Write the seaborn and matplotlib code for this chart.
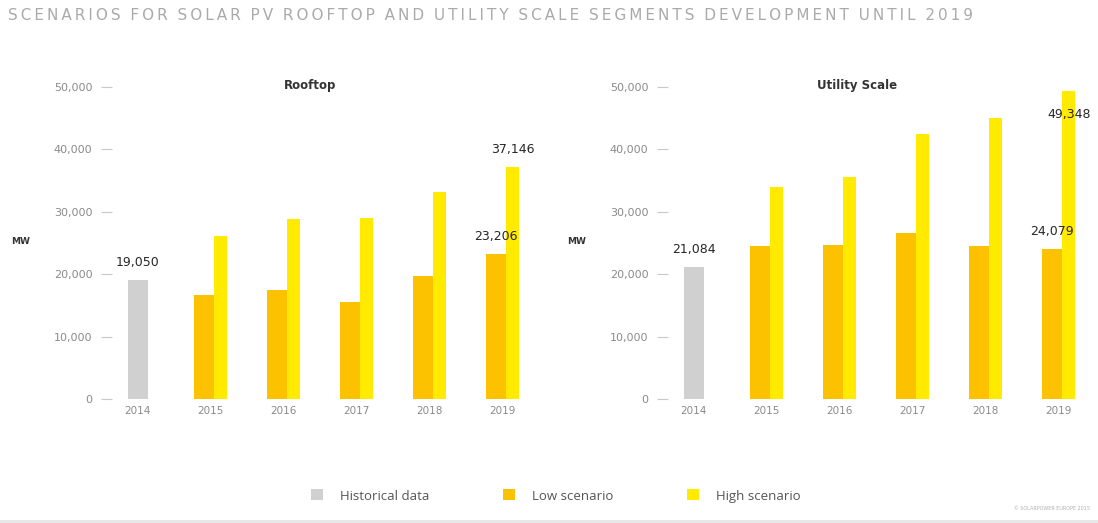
"""
Solar PV rooftop vs utility scale scenarios, 2014-2019.
"""

import matplotlib
matplotlib.use("Agg")
import matplotlib.pyplot as plt
from matplotlib.lines import Line2D
from matplotlib.patches import Patch
from matplotlib.ticker import FuncFormatter
import pandas as pd
import seaborn as sns

# ---- data (MW) ----
years = [2014, 2015, 2016, 2017, 2018, 2019]
hist_years = [2014]
scen_years = [2015, 2016, 2017, 2018, 2019]

rooftop_hist = [19050]
rooftop_low = [16610, 17520, 15600, 19760, 23206]
rooftop_high = [26090, 28860, 29020, 33230, 37146]

utility_hist = [21084]
utility_low = [24490, 24710, 26620, 24490, 24079]
utility_high = [34030, 35620, 42540, 45000, 49348]

series_names = ["Historical data", "Low scenario", "High scenario"]
panel_titles = ["Rooftop", "Utility Scale"]
title = "SCENARIOS FOR SOLAR PV ROOFTOP AND UTILITY SCALE SEGMENTS DEVELOPMENT UNTIL 2019"

# ---- style ----
colors = {"Historical data": "#d0d0d0", "Low scenario": "#fcc200", "High scenario": "#ffea00"}
bar_offset = {"Historical data": 0.0, "Low scenario": -0.089, "High scenario": 0.137}
bar_width = {"Historical data": 0.274, "Low scenario": 0.274, "High scenario": 0.178}


def make_frame(hist, low, high):
    parts = [
        pd.DataFrame({"year": hist_years, "MW": hist, "series": "Historical data"}),
        pd.DataFrame({"year": scen_years, "MW": low, "series": "Low scenario"}),
        pd.DataFrame({"year": scen_years, "MW": high, "series": "High scenario"}),
    ]
    df = pd.concat(parts, ignore_index=True)
    df["x"] = df["year"] + df["series"].map(bar_offset)
    return df


def draw_panel(ax, df, labels):
    for s in series_names:
        sns.barplot(data=df[df["series"] == s], x="x", y="MW", native_scale=True,
                    width=bar_width[s], color=colors[s], saturation=1,
                    errorbar=None, linewidth=0, ax=ax)
    ax.set_xlim(2013.65, 2019.4)
    ax.set_ylim(0, 50000)
    ax.set_xticks(years)
    ax.set_xticklabels([str(y) for y in years])
    ax.set_yticks(range(0, 50001, 10000))
    ax.yaxis.set_major_formatter(FuncFormatter(lambda v, p: f"{int(v):,}"))
    ax.set_xlabel("")
    ax.set_ylabel("")
    sns.despine(ax=ax, left=True, bottom=True)
    ax.tick_params(axis="y", left=True, length=8, width=0.8, color="#c8c8c8", pad=6,
                   labelsize=8, labelcolor="#8a8a8a")
    ax.tick_params(axis="x", bottom=False, length=0, pad=5, labelsize=7.5,
                   labelcolor="#8a8a8a")
    ax.grid(False)

    for s, yr, where in labels:
        row = df[(df["series"] == s) & (df["year"] == yr)].iloc[0]
        dy = 8 if where == "above" else -12
        va = "bottom" if where == "above" else "top"
        ax.annotate(f"{int(row['MW']):,}", xy=(row["x"], row["MW"]),
                    xytext=(0, dy), textcoords="offset points",
                    ha="center", va=va, fontsize=9, color="#262626")


sns.set_theme(style="white")
plt.rcParams["font.family"] = ["DejaVu Sans"]

fig = plt.figure(figsize=(10.98, 5.23), dpi=100)

ax1 = fig.add_axes([112 / 1098, 1 - 399 / 523, 420 / 1098, 312 / 523])
ax2 = fig.add_axes([668 / 1098, 1 - 399 / 523, 420 / 1098, 312 / 523])

rooftop = make_frame(rooftop_hist, rooftop_low, rooftop_high)
utility = make_frame(utility_hist, utility_low, utility_high)

draw_panel(ax1, rooftop, [("Historical data", 2014, "above"),
                          ("Low scenario", 2019, "above"),
                          ("High scenario", 2019, "above")])
draw_panel(ax2, utility, [("Historical data", 2014, "above"),
                          ("Low scenario", 2019, "above"),
                          ("High scenario", 2019, "inside")])

# titles (thin spaces give the letter tracking of the original)
tracked = "  ".join("\u2009".join(word) for word in title.split(" "))
fig.text(8 / 1098, 1 - 15 / 523, tracked,
         fontsize=11, color="#aaaaaa", va="center", ha="left")
fig.text(310 / 1098, 1 - 86 / 523, panel_titles[0], fontsize=8.5, fontweight="bold",
         color="#333333", ha="center", va="center")
fig.text(857 / 1098, 1 - 86 / 523, panel_titles[1], fontsize=8.5, fontweight="bold",
         color="#333333", ha="center", va="center")
fig.text(21 / 1098, 1 - 242 / 523, "MW", fontsize=6.5, fontweight="bold",
         color="#333333", ha="center", va="center")
fig.text(577 / 1098, 1 - 242 / 523, "MW", fontsize=6.5, fontweight="bold",
         color="#333333", ha="center", va="center")

# legend
handles = [Patch(facecolor=colors[s], edgecolor="none", label=s) for s in series_names]
leg = fig.legend(handles=handles, loc="center", bbox_to_anchor=(556 / 1098, 1 - 496 / 523),
                 ncol=3, frameon=False, handlelength=0.9, handleheight=0.9,
                 handletextpad=1.3, columnspacing=5.6,
                 prop={"family": "Open Sans", "size": 9.5})
for t in leg.get_texts():
    t.set_color("#555555")

fig.text(1090 / 1098, 1 - 509 / 523, "© SOLARPOWER EUROPE 2015", fontsize=3.5,
         color="#b0b0b0", ha="right", va="center")
fig.add_artist(Line2D([0, 1], [2 / 523, 2 / 523], transform=fig.transFigure,
                      color="#e6e6e6", lw=2))

fig.savefig("out.png", dpi=100, facecolor="white")
